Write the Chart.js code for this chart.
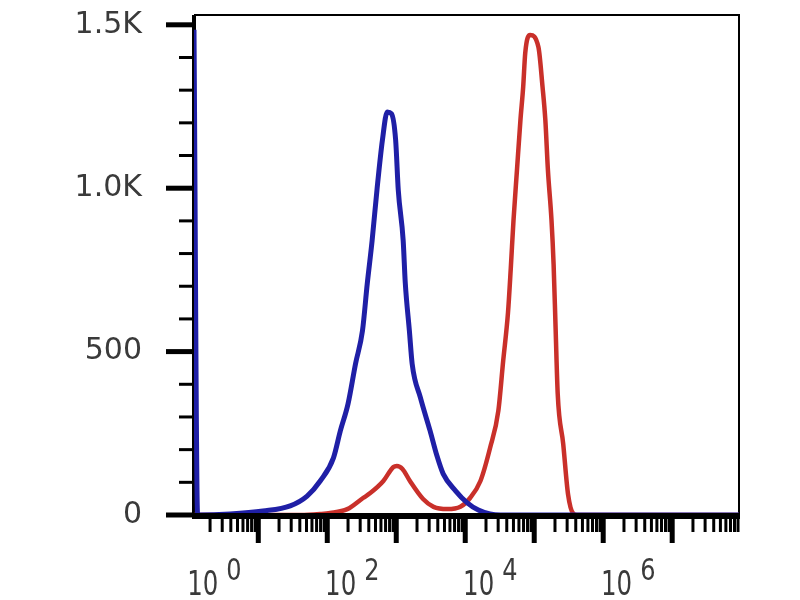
<!DOCTYPE html>
<html>
<head>
<meta charset="utf-8">
<script src="https://cdn.jsdelivr.net/npm/chart.js@4/dist/chart.umd.min.js"></script>
<style>
html, body { margin: 0; padding: 0; background: #fff; }
#wrap { width: 800px; height: 600px; }
</style>
</head>
<body>
<div id="wrap"><canvas id="histo" width="800" height="600"></canvas></div>
<script>
// fluorescence channel (log) and event counts
var blueX = [0.117, 0.132, 0.39, 1.17, 2.9, 5.1, 7.9, 12.3, 15.5, 20, 25.7, 32.4, 38, 44.7, 52.5, 63, 74, 85, 98, 107, 126, 135, 155, 170, 224, 309, 389, 479, 724, 1070, 1550, 2290, 3240, 9.3e6];
var blueY = [1485, 0, 3, 12, 28, 58, 104, 175, 258, 340, 463, 564, 708, 840, 994, 1147, 1233, 1228, 1147, 994, 840, 712, 564, 463, 359, 258, 181, 126, 74, 37, 15, 3, 0, 0];
var redX = [0.117, 4.1, 7.9, 11, 19.5, 33, 42, 65, 91, 102, 123, 158, 245, 347, 550, 850, 1175, 1660, 2290, 3020, 3550, 4170, 4570, 5010, 5620, 6310, 6920, 7410, 8710, 11500, 13200, 14500, 15800, 17800, 19100, 20400, 21900, 26300, 30900, 37200, 41700, 9.3e6];
var redY = [0, 0, 3, 6, 18, 52, 67, 104, 147, 150, 141, 104, 49, 25, 18, 25, 52, 104, 205, 319, 472, 620, 754, 902, 1055, 1208, 1310, 1414, 1469, 1432, 1310, 1208, 1055, 902, 767, 574, 371, 218, 64, 3, 0, 0];

var yTicks = [0, 500, 1000, 1500];
var yTickLabels = ['0', '500', '1.0K', '1.5K'];
var xLabelExps = [0, 2, 4, 6];

var xMin = 0.117;
var xMax = 9.3e6;
var yMax = 1530;

function toPoints(xs, ys) {
    return xs.map(function (x, i) { return { x: x, y: ys[i] }; });
}

var frameAndTicks = {
    id: 'frameAndTicks',
    beforeDatasetsDraw: function (chart) {
        var ctx = chart.ctx;
        var area = chart.chartArea;
        var ys = chart.scales.y;
        ctx.save();
        ctx.strokeStyle = '#000';
        ctx.lineCap = 'butt';

        // thin top / right frame
        ctx.lineWidth = 2;
        ctx.beginPath();
        ctx.moveTo(area.left, area.top);
        ctx.lineTo(area.right, area.top);
        ctx.lineTo(area.right, area.bottom);
        ctx.stroke();

        // heavy left axis (blue trace runs over it)
        ctx.lineWidth = 4;
        ctx.beginPath();
        ctx.moveTo(area.left, area.top);
        ctx.lineTo(area.left, area.bottom + 2);
        ctx.stroke();

        // y ticks every 100
        for (var v = 0; v <= 1500; v += 100) {
            var py = ys.getPixelForValue(v);
            var major = v % 500 === 0;
            ctx.lineWidth = major ? 5 : 3;
            ctx.beginPath();
            ctx.moveTo(area.left - (major ? 28 : 15), py);
            ctx.lineTo(area.left, py);
            ctx.stroke();
        }
        ctx.restore();
    },
    afterDatasetsDraw: function (chart) {
        var ctx = chart.ctx;
        var area = chart.chartArea;
        var xs = chart.scales.x;
        ctx.save();
        ctx.strokeStyle = '#000';
        ctx.lineCap = 'butt';

        // heavy bottom axis covers the zero baseline of both traces
        ctx.lineWidth = 6;
        ctx.beginPath();
        ctx.moveTo(area.left - 2, area.bottom + 1);
        ctx.lineTo(area.right + 1, area.bottom + 1);
        ctx.stroke();

        // x ticks at 1..9 x 10^k
        for (var k = -1; k <= 6; k++) {
            for (var m = 1; m <= 9; m++) {
                var val = m * Math.pow(10, k);
                if (val < xMin || val > xMax) continue;
                var px = xs.getPixelForValue(val);
                var big = m === 1;
                ctx.lineWidth = big ? 5 : 3;
                ctx.beginPath();
                ctx.moveTo(px, area.bottom + 3);
                ctx.lineTo(px, area.bottom + (big ? 28 : 17));
                ctx.stroke();
            }
        }

        // decade labels 10^n
        ctx.fillStyle = '#3a3a3a';
        xLabelExps.forEach(function (e) {
            var px = xs.getPixelForValue(Math.pow(10, e));
            ctx.save();
            ctx.translate(px - 40, 595);
            ctx.scale(0.72, 1);
            ctx.font = '34px "DejaVu Sans"';
            ctx.textAlign = 'right';
            ctx.fillText('10', 0, 0);
            ctx.restore();
            ctx.save();
            ctx.translate(px - 32, 580);
            ctx.scale(0.8, 1);
            ctx.font = '30px "DejaVu Sans"';
            ctx.textAlign = 'left';
            ctx.fillText(String(e), 0, 0);
            ctx.restore();
        });
        ctx.restore();
    }
};

var canvas = document.getElementById('histo');
var config = {
    type: 'line',
    data: {
        datasets: [{
            label: 'blue',
            data: toPoints(blueX, blueY),
            borderColor: '#1f1fa6',
            borderWidth: 5,
            pointRadius: 0,
            cubicInterpolationMode: 'monotone'
        }, {
            label: 'red',
            data: toPoints(redX, redY),
            borderColor: '#c9302a',
            borderWidth: 4.5,
            pointRadius: 0,
            cubicInterpolationMode: 'monotone'
        }]
    },
    plugins: [frameAndTicks],
    options: {
        responsive: false,
        animation: false,
        layout: {
            padding: { left: 0, top: 15, right: 61, bottom: 0 }
        },
        plugins: {
            legend: { display: false },
            tooltip: { enabled: false }
        },
        scales: {
            x: {
                type: 'logarithmic',
                min: xMin,
                max: xMax,
                grid: { display: false },
                border: { display: false },
                ticks: { display: false },
                afterFit: function (scale) {
                    scale.height = 85;
                    scale.paddingLeft = 0;
                    scale.paddingRight = 0;
                }
            },
            y: {
                min: 0,
                max: yMax,
                grid: { display: false },
                border: { display: false },
                afterBuildTicks: function (scale) {
                    scale.ticks = yTicks.map(function (v) { return { value: v }; });
                },
                afterFit: function (scale) {
                    scale.width = 194;
                    scale.paddingTop = 0;
                    scale.paddingBottom = 0;
                },
                ticks: {
                    padding: 44,
                    color: '#3a3a3a',
                    font: { family: 'DejaVu Sans', size: 30 },
                    callback: function (value) {
                        var i = yTicks.indexOf(value);
                        return i >= 0 ? yTickLabels[i] : '';
                    }
                }
            }
        }
    }
};
var chart = new Chart(canvas, config);
</script>
</body>
</html>
